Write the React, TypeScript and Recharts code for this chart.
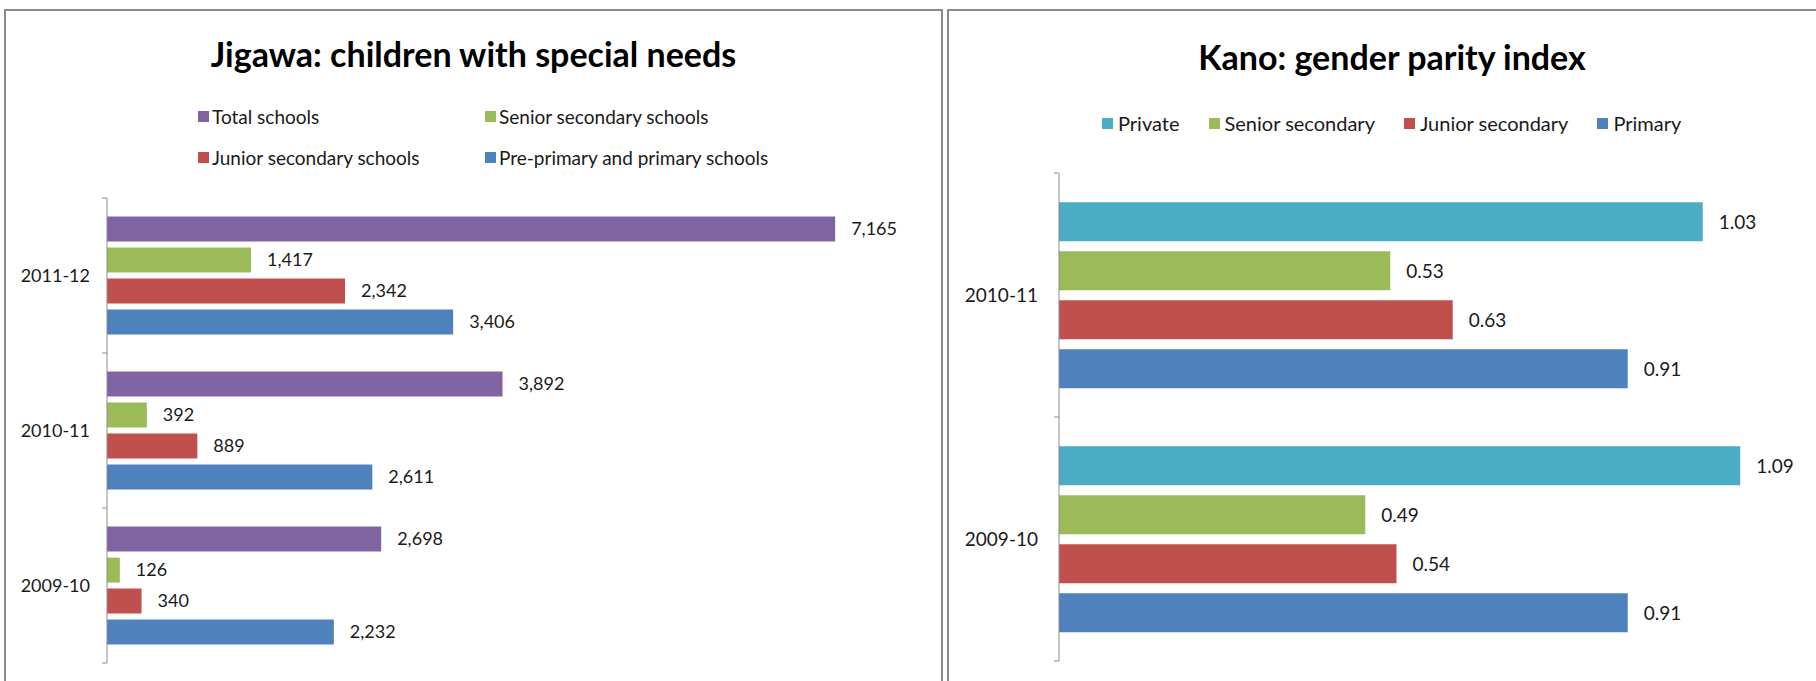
import { BarChart, Bar, XAxis, YAxis, LabelList, Legend } from "recharts"

const FONT = "Lato, 'Liberation Sans', sans-serif"
const INK = "#1a1a1a"
const AXIS = "#8c8c8c"
const FRAME = "#8a8a8a"

// Jigawa: children with special needs (top to bottom)
const jigawaYears = ["2011-12", "2010-11", "2009-10"]
const jigawaTotal = [7165, 3892, 2698]
const jigawaSenior = [1417, 392, 126]
const jigawaJunior = [2342, 889, 340]
const jigawaPrimary = [3406, 2611, 2232]

// Kano: gender parity index
const kanoYears = ["2010-11", "2009-10"]
const kanoPrivate = [1.03, 1.09]
const kanoSenior = [0.53, 0.49]
const kanoJunior = [0.63, 0.54]
const kanoPrimary = [0.91, 0.91]

const jigawaSeries = [
  { key: "total", name: "Total schools", color: "#8064A2" },
  { key: "senior", name: "Senior secondary schools", color: "#9BBB59" },
  { key: "junior", name: "Junior secondary schools", color: "#C0504D" },
  { key: "primary", name: "Pre-primary and primary schools", color: "#4F81BD" },
]

const kanoSeries = [
  { key: "private", name: "Private", color: "#4BACC6" },
  { key: "senior", name: "Senior secondary", color: "#9BBB59" },
  { key: "junior", name: "Junior secondary", color: "#C0504D" },
  { key: "primary", name: "Primary", color: "#4F81BD" },
]

const jigawaData = jigawaYears.map((year, i) => ({
  year,
  total: jigawaTotal[i],
  senior: jigawaSenior[i],
  junior: jigawaJunior[i],
  primary: jigawaPrimary[i],
}))

const kanoData = kanoYears.map((year, i) => ({
  year,
  private: kanoPrivate[i],
  senior: kanoSenior[i],
  junior: kanoJunior[i],
  primary: kanoPrimary[i],
}))

// plot heights, used for the Excel-style ticks between categories
const LEFT_PLOT_H = 465
const RIGHT_PLOT_H = 488

function YearTick(props: any) {
  const { x, y, payload, index, count, half, gap, fontSize } = props
  return (
    <g>
      <line x1={x - 5} x2={x} y1={y - half} y2={y - half} stroke={AXIS} />
      {index === count - 1 && (
        <line x1={x - 5} x2={x} y1={y + half} y2={y + half} stroke={AXIS} />
      )}
      <text
        x={x - gap}
        y={y}
        dy="0.355em"
        textAnchor="end"
        fill={INK}
        fontSize={fontSize}
        fontFamily={FONT}
      >
        {payload.value}
      </text>
    </g>
  )
}

function Swatch({ color }: { color: string }) {
  return <span style={{ width: 11, height: 11, background: color, display: "inline-block" }} />
}

// keep legend entries in series order (recharts sorts them by name otherwise)
function ordered(payload: any[] | undefined, series: { name: string }[]) {
  const idx = (v: string) => series.findIndex((s) => s.name === v)
  return [...(payload ?? [])].sort((a, b) => idx(a.value) - idx(b.value))
}

function GridLegend({ payload }: any) {
  return (
    <div
      style={{
        display: "grid",
        gridTemplateColumns: "287px auto",
        rowGap: 21,
        fontFamily: FONT,
        fontSize: 19,
        color: INK,
      }}
    >
      {ordered(payload, jigawaSeries).map((p: any) => (
        <div key={p.value} style={{ display: "flex", alignItems: "center", gap: 3, height: 20 }}>
          <Swatch color={p.color} />
          <span>{p.value}</span>
        </div>
      ))}
    </div>
  )
}

function RowLegend({ payload }: any) {
  return (
    <div
      style={{
        display: "flex",
        gap: 29,
        fontFamily: FONT,
        fontSize: 20,
        color: INK,
        whiteSpace: "nowrap",
      }}
    >
      {ordered(payload, kanoSeries).map((p: any) => (
        <div key={p.value} style={{ display: "flex", alignItems: "center", gap: 5, height: 20 }}>
          <Swatch color={p.color} />
          <span>{p.value}</span>
        </div>
      ))}
    </div>
  )
}

const titleStyle = {
  position: "absolute" as const,
  fontFamily: FONT,
  fontWeight: 700,
  fontSize: 34,
  lineHeight: "34px",
  color: "#000",
  textAlign: "center" as const,
}

export default function App() {
  return (
    <div
      style={{
        position: "absolute",
        left: 0,
        top: 0,
        width: 1816,
        height: 681,
        overflow: "hidden",
        background: "#fff",
      }}
    >
      <div
        style={{
          position: "absolute",
          left: 4,
          top: 9,
          width: 939,
          height: 700,
          border: `2px solid ${FRAME}`,
          boxSizing: "border-box",
        }}
      />
      <div
        style={{
          position: "absolute",
          left: 947,
          top: 9,
          width: 900,
          height: 700,
          border: `2px solid ${FRAME}`,
          boxSizing: "border-box",
        }}
      />

      <div style={{ ...titleStyle, left: 5, width: 937, top: 37 }}>
        Jigawa: children with special needs
      </div>
      <div style={{ ...titleStyle, left: 948, width: 888, top: 40 }}>
        Kano: gender parity index
      </div>

      <div style={{ position: "absolute", left: 0, top: 0 }}>
        <BarChart
          width={942}
          height={681}
          data={jigawaData}
          layout="vertical"
          margin={{ top: 198, right: 22, bottom: 18, left: 0 }}
          barCategoryGap="12%"
          barGap={6}
        >
          <XAxis type="number" domain={[0, 8000]} hide />
          <YAxis
            type="category"
            dataKey="year"
            width={107}
            axisLine={{ stroke: AXIS }}
            tickLine={false}
            tickSize={0}
            tickMargin={0}
            tick={(p: any) => (
              <YearTick {...p} count={jigawaYears.length} half={LEFT_PLOT_H / jigawaYears.length / 2} gap={17} fontSize={18} />
            )}
          />
          <Legend
            verticalAlign="middle"
            layout="horizontal"
            content={<GridLegend />}
            wrapperStyle={{ top: 106, left: 198, width: 620 }}
          />
          {jigawaSeries.map((s) => (
            <Bar key={s.key} dataKey={s.key} name={s.name} fill={s.color} isAnimationActive={false}>
              <LabelList
                dataKey={s.key}
                position="right"
                offset={16}
                formatter={(v: any) => Number(v).toLocaleString("en-US")}
                fill={INK}
                fontSize={18}
                fontFamily={FONT}
              />
            </Bar>
          ))}
        </BarChart>
      </div>

      <div style={{ position: "absolute", left: 948, top: 0 }}>
        <BarChart
          width={868}
          height={681}
          data={kanoData}
          layout="vertical"
          margin={{ top: 173, right: 7, bottom: 20, left: 0 }}
          barCategoryGap="12%"
          barGap={10}
        >
          <XAxis type="number" domain={[0, 1.2]} hide />
          <YAxis
            type="category"
            dataKey="year"
            width={111}
            axisLine={{ stroke: AXIS }}
            tickLine={false}
            tickSize={0}
            tickMargin={0}
            tick={(p: any) => (
              <YearTick {...p} count={kanoYears.length} half={RIGHT_PLOT_H / kanoYears.length / 2} gap={21} fontSize={19} />
            )}
          />
          <Legend
            verticalAlign="middle"
            layout="horizontal"
            content={<RowLegend />}
            wrapperStyle={{ top: 113, left: 154, width: 700 }}
          />
          {kanoSeries.map((s) => (
            <Bar key={s.key} dataKey={s.key} name={s.name} fill={s.color} isAnimationActive={false}>
              <LabelList
                dataKey={s.key}
                position="right"
                offset={16}
                formatter={(v: any) => Number(v).toFixed(2)}
                fill={INK}
                fontSize={19}
                fontFamily={FONT}
              />
            </Bar>
          ))}
        </BarChart>
      </div>
    </div>
  )
}
